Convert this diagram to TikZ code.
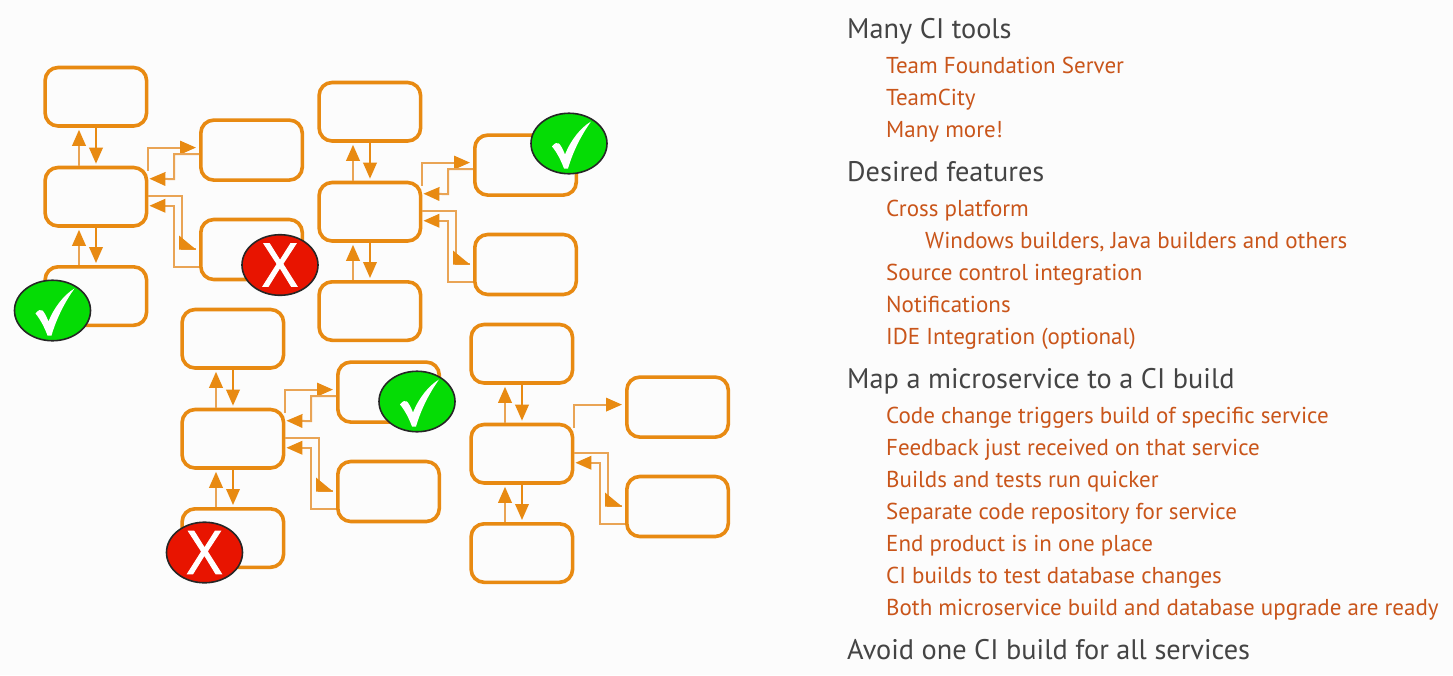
\documentclass[tikz,border=0pt]{standalone}
\usepackage{fontspec}
\setmainfont{PT Sans}
\newfontfamily\xfont[FakeBold=1.6]{Open Sans}
\usetikzlibrary{arrows.meta,shapes.geometric,calc}
\definecolor{bg}{HTML}{FCFCFC}
\definecolor{boxc}{HTML}{E88A12}
\definecolor{thin}{HTML}{E9A455}
\definecolor{head}{HTML}{444444}
\definecolor{sub}{HTML}{C9551A}
\definecolor{okc}{HTML}{05DC05}
\definecolor{noc}{HTML}{E81400}
\tikzset{
  x=1pt,y=-1pt,
  flow/.style={draw=boxc,line width=3.6pt,rounded corners=13pt,minimum width=101.5pt,minimum height=58.5pt,inner sep=0pt,anchor=north west,fill=bg},
  link/.style={draw=thin,line width=2pt,-{Triangle[length=16pt,width=13.5pt,fill=boxc,color=boxc]}},
  linkd/.style={link,draw=boxc},
  plain/.style={draw=thin,line width=2pt},
  tipc/.style={fill=boxc},
  okb/.style={ellipse,draw=black!85,line width=1.6pt,fill=okc,minimum width=76pt,minimum height=60.5pt,inner sep=0pt},
  nob/.style={ellipse,draw=black!85,line width=1.6pt,fill=noc,minimum width=76pt,minimum height=60.5pt,inner sep=0pt,text=white,font=\xfont\fontsize{60}{60}\selectfont},
  hd/.style={anchor=base west,text=head,font=\fontsize{28.3}{28.3}\selectfont,inner sep=0pt},
  it/.style={anchor=base west,text=sub,font=\fontsize{23}{23}\selectfont,inner sep=0pt},
}
% #1 prefix, #2/#3 outer top-left corner of the central box
\newcommand{\clusterboxes}[3]{
  \node[flow] (#1c) at (#2,#3) {};
  \node[flow] (#1t) at (#2,#3-100) {};
  \node[flow] (#1b) at (#2,#3+99.3) {};
  \node[flow,minimum height=60pt] (#1u) at (#2+155.7,#3-47.4) {};
  \node[flow,minimum height=60pt] (#1d) at (#2+155.7,#3+52) {};
  \draw[link] ($(#1c.north west)+(35.7,0)$) -- ($(#1t.south west)+(35.7,2)$);
  \draw[linkd] ($(#1t.south west)+(52.7,0)$) -- ($(#1c.north west)+(52.7,-2)$);
  \draw[link] ($(#1b.north west)+(35.7,0)$) -- ($(#1c.south west)+(35.7,2)$);
  \draw[linkd] ($(#1c.south west)+(52.7,0)$) -- ($(#1b.north west)+(52.7,-2)$);
  \draw[link] ($(#1c.north east)+(0,5)$) |- ($(#1u.west)+(-3,-2.5)$);
  \draw[link] ($(#1d.west)+(0,17)$) -- ++(-25,0) |- ($(#1c.east)+(1,9)$);
  \draw[plain] ($(#1c.east)+(0,-1)$) -- ++(34,0) |- ($(#1d.west)+(-3,-1)$);
  \fill[tipc] ($(#1d.west)+(-20,-14)$) -- ($(#1d.west)+(-3,0)$) -- ($(#1d.west)+(-20,0)$) -- cycle;
}
\newcommand{\retlink}[1]{
  \draw[link] ($(#1u.west)+(0,4)$) -| ($(#1u.west)+(-25,29)$) -- ($(#1c.north east)+(1,13)$);
}
\newcommand{\tick}[1]{
  \fill[white] ($(#1)+(-17,3)$) .. controls ($(#1)+(-14,-1)$) and ($(#1)+(-12,-1)$) .. ($(#1)+(-10,0)$)
   .. controls ($(#1)+(-8,2)$) and ($(#1)+(-6,6)$) .. ($(#1)+(-4,11)$)
   .. controls ($(#1)+(2,-4)$) and ($(#1)+(12,-16)$) .. ($(#1)+(22,-22)$)
   .. controls ($(#1)+(12,-8)$) and ($(#1)+(4,8)$) .. ($(#1)+(-1,25)$)
   -- ($(#1)+(-5,25)$)
   .. controls ($(#1)+(-8,17)$) and ($(#1)+(-12,9)$) .. ($(#1)+(-17,3)$) -- cycle;
}
\begin{document}
\begin{tikzpicture}
\useasboundingbox (0,0) rectangle (1453,675);
\fill[bg] (0,0) rectangle (1453,675);
\clusterboxes{a}{43.3}{165.7}\retlink{a}
\clusterboxes{g}{317.3}{180.7}\retlink{g}
\clusterboxes{e}{180.3}{407.7}\retlink{e}
\clusterboxes{k}{469.3}{422.7}
\node[okb] (ok1) at (52.5,310.5) {};\tick{ok1}
\node[okb] (ok2) at (569,143.5) {};\tick{ok2}
\node[okb] (ok3) at (417,401.5) {};\tick{ok3}
\node[nob] (no1) at (280,265) {X};
\node[nob] (no2) at (204.5,552.5) {X};
\node[hd] (h1) at (847,38) {Many CI tools};
\node[it] (i1) at (886,73) {Team Foundation Server};
\node[it] (i2) at (886,105) {TeamCity};
\node[it] (i3) at (886,137) {Many more!};
\node[hd] (h2) at (847,181) {Desired features};
\node[it] (i4) at (886,216) {Cross platform};
\node[it] (i5) at (925,248) {Windows builders, Java builders and others};
\node[it] (i6) at (886,280) {Source control integration};
\node[it] (i7) at (886,312) {Notifications};
\node[it] (i8) at (886,344) {IDE Integration (optional)};
\node[hd] (h3) at (847,388) {Map a microservice to a CI build};
\node[it] (i9) at (886,423) {Code change triggers build of specific service};
\node[it] (i10) at (886,455) {Feedback just received on that service};
\node[it] (i11) at (886,487) {Builds and tests run quicker};
\node[it] (i12) at (886,519) {Separate code repository for service};
\node[it] (i13) at (886,551) {End product is in one place};
\node[it] (i14) at (886,583) {CI builds to test database changes};
\node[it] (i15) at (886,615) {Both microservice build and database upgrade are ready};
\node[hd] (h4) at (847,659) {Avoid one CI build for all services};
\end{tikzpicture}
\end{document}
